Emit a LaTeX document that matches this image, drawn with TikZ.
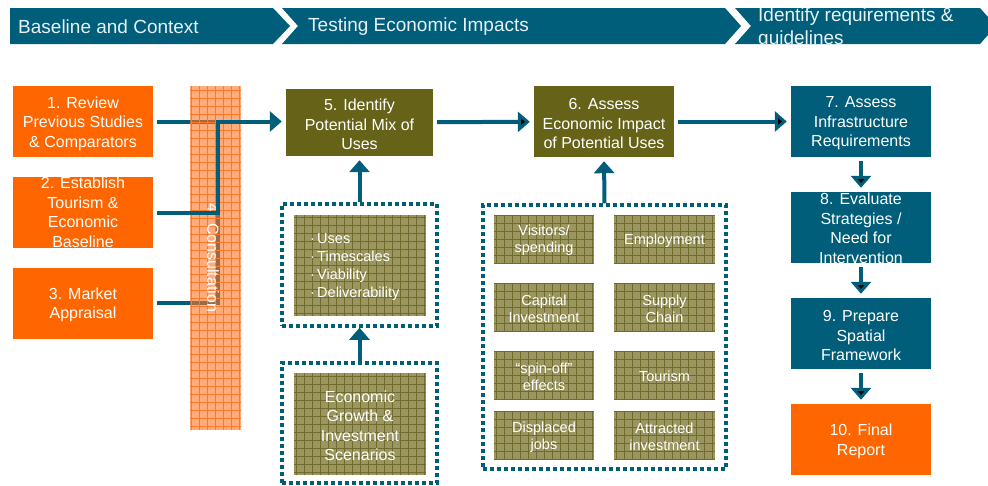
\documentclass[tikz,border=0pt]{standalone}
\usepackage{fontspec}
\setmainfont{Liberation Sans}
\usetikzlibrary{arrows.meta}
\definecolor{petrol}{RGB}{0,94,122}
\definecolor{orng}{RGB}{255,102,0}
\definecolor{moss}{RGB}{102,99,25}
\definecolor{khaki}{RGB}{155,150,95}
\definecolor{khakiline}{RGB}{112,107,45}
\definecolor{consultfill}{RGB}{255,117,37}
\definecolor{consultline}{RGB}{255,120,40}
\definecolor{headfont}{RGB}{232,241,245}
\tikzset{
  headtext/.style={text=headfont, inner sep=0pt, font=\fontsize{19}{23}\selectfont},
  steptext/.style={text=white, align=center, font=\fontsize{16}{19.5}\selectfont, yshift=-2pt},
  gridtext/.style={text=white, align=center, font=\fontsize{14.5}{17}\selectfont, yshift=-1.5pt},
  stepbox/.style={shape=rectangle, minimum width=140pt, minimum height=71pt, inner sep=0pt},
  orangebox/.style={stepbox, fill=orng},
  olivebox/.style={stepbox, fill=moss},
  tealbox/.style={stepbox, fill=petrol},
  gridbox/.style={shape=rectangle, inner sep=0pt, fill=khaki,
    path picture={\draw[khakiline, line width=1pt] (path picture bounding box.south west) grid[step=8pt] (path picture bounding box.north east);}},
  dotbox/.style={shape=rectangle, draw=petrol, line width=3.5pt, dash pattern=on 4pt off 3pt, inner sep=0pt},
  link/.style={draw=petrol, line width=4pt, shorten <=4pt},
  flow/.style={link, shorten >=4pt, -{Triangle[width=20pt,length=12pt]}},
}
\begin{document}
\begin{tikzpicture}[x=1pt,y=-1pt]
\useasboundingbox (0,0) rectangle (988,485);
% stages
\fill[petrol] (10,8) -- (273,8) -- (290,26) -- (273,44) -- (10,44) -- cycle;
\fill[petrol] (282,8) -- (725,8) -- (741,26) -- (725,44) -- (282,44) -- (298,26) -- cycle;
\fill[petrol] (735,8) -- (980,8) -- (996,26) -- (980,44) -- (735,44) -- (751,26) -- cycle;
\node[headtext, anchor=west] (h1) at (18,27) {Baseline and Context};
\node[headtext, anchor=west] (h2) at (308,27) {Testing Economic Impacts};
\begin{scope}
\clip (735,8) -- (980,8) -- (996,26) -- (980,44) -- (735,44) -- (751,26) -- cycle;
\node[headtext, anchor=north west, align=left] (h3) at (758,8) {Identify requirements \&\\guidelines};
\end{scope}
% steps
\node[orangebox, label={[steptext]center:1. Review\\Previous Studies\\\& Comparators}] (1) at (83,121.5) {};
\node[orangebox, label={[steptext, yshift=2pt]center:2. Establish\\Tourism \&\\Economic\\Baseline}] (2) at (83,212.5) {};
\node[orangebox, label={[steptext]center:3. Market\\Appraisal}] (3) at (83,303) {};
\node[olivebox, minimum width=147pt, minimum height=67pt, label={[steptext]center:5. Identify\\Potential Mix of\\Uses}] (5) at (359.5,122.5) {};
\node[olivebox, label={[steptext]center:6. Assess\\Economic Impact\\of Potential Uses}] (6) at (604,121.5) {};
\node[tealbox, label={[steptext]center:7. Assess\\Infrastructure\\Requirements}] (7) at (861,121.5) {};
\node[tealbox, label={[steptext, yshift=1pt]center:8. Evaluate\\Strategies /\\Need for\\Intervention}] (8) at (861,227.5) {};
\node[tealbox, label={[steptext]center:9. Prepare\\Spatial\\Framework}] (9) at (861,333.5) {};
\node[orangebox, label={[steptext]center:10. Final\\Report}] (10) at (861,439.5) {};
% consultation
\coordinate (j1) at (218,121.5);
\coordinate (j2) at (218,212.5);
\coordinate (j3) at (218,303);
\draw[link] (1.east) -- (j1);
\draw[link] (3.east) -- (j3) -- (j2);
\node[shape=rectangle, minimum width=51pt, minimum height=344pt, fill=consultfill, fill opacity=0.6,
  path picture={\draw[consultline, line width=1pt] (path picture bounding box.south west) grid[step=8pt] (path picture bounding box.north east);}] (4) at (215.5,258) {};
\node[rotate=-90, text=white, font=\fontsize{16}{19}\selectfont] (4t) at (213,258) {4. Consultation};
\draw[flow, line join=miter] (2.east) -- (j2) -- (j1) -- (j1 -| 5.west);
% inputs
\node[dotbox, minimum width=155pt, minimum height=122pt] (usesframe) at (359.5,265) {};
\node[gridbox, minimum width=132pt, minimum height=101pt,
  label={[gridtext, align=left, font=\fontsize{14.5}{17.7}\selectfont, text width=110pt, xshift=5pt]center:·\,Uses\\·\,Timescales\\·\,Viability\\·\,Deliverability}] (uses) at (360,265.5) {};
\node[dotbox, minimum width=155pt, minimum height=120pt] (scenframe) at (359.5,423) {};
\node[gridbox, minimum width=132pt, minimum height=102pt, label={[steptext]center:Economic\\Growth \&\\Investment\\Scenarios}] (scen) at (360,424) {};
\node[dotbox, minimum width=243pt, minimum height=264pt] (impframe) at (604.5,337) {};
\node[gridbox, minimum width=100pt, minimum height=48pt, label={[gridtext]center:Visitors/\\spending}] (visit) at (544,239) {};
\node[gridbox, minimum width=101pt, minimum height=48pt, label={[gridtext]center:Employment}] (employ) at (664.5,239) {};
\node[gridbox, minimum width=100pt, minimum height=49pt, label={[gridtext]center:Capital\\Investment}] (capital) at (544,307.5) {};
\node[gridbox, minimum width=101pt, minimum height=49pt, label={[gridtext]center:Supply\\Chain}] (supply) at (664.5,307.5) {};
\node[gridbox, minimum width=100pt, minimum height=48pt, label={[gridtext]center:“spin-off”\\effects}] (spinoff) at (544,375) {};
\node[gridbox, minimum width=101pt, minimum height=48pt, label={[gridtext]center:Tourism}] (tourism) at (664.5,375) {};
\node[gridbox, minimum width=100pt, minimum height=49pt, label={[gridtext]center:Displaced\\jobs}] (displaced) at (544,435.5) {};
\node[gridbox, minimum width=101pt, minimum height=49pt, label={[gridtext]center:Attracted\\investment}] (attracted) at (664.5,435.5) {};
% flows
\path[flow] (5) edge (6);
\path[flow] (6) edge (7);
\path[flow] (7) edge (8);
\path[flow] (8) edge (9);
\path[flow] (9) edge (10);
\draw[flow, shorten <=0pt] (usesframe.north) -- (5.south);
\draw[flow, shorten <=-3pt, shorten >=0pt] (scenframe.north) -- (usesframe.south);
\draw[flow, shorten <=0pt] (impframe.north) -- (6.south);
\end{tikzpicture}
\end{document}
